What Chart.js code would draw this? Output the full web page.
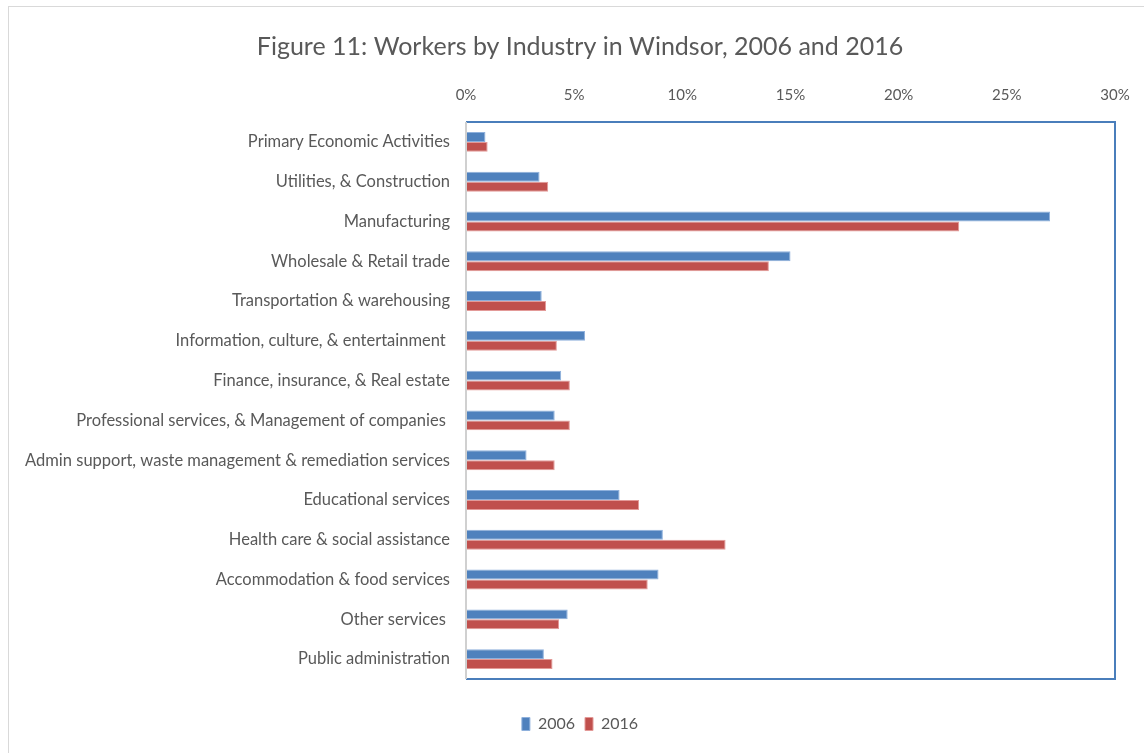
<!DOCTYPE html>
<html>
<head>
<meta charset="utf-8">
<script src="https://cdn.jsdelivr.net/npm/chart.js@4"></script>
<style>
  html, body { margin: 0; padding: 0; background: #fff; overflow: hidden; }
  #wrap { position: relative; width: 1160px; height: 753px; }
  #frame { position: absolute; left: 8px; top: 6px; width: 1144px; height: 760px; border: 1px solid #d9d9d9; box-sizing: border-box; }
</style>
</head>
<body>
<div id="wrap">
  <div id="frame"></div>
  <canvas id="industryChart"></canvas>
</div>
<script>
const industries = [
  "Primary Economic Activities",
  "Utilities, & Construction",
  "Manufacturing",
  "Wholesale & Retail trade",
  "Transportation & warehousing",
  "Information, culture, & entertainment ",
  "Finance, insurance, & Real estate",
  "Professional services, & Management of companies ",
  "Admin support, waste management & remediation services",
  "Educational services",
  "Health care & social assistance",
  "Accommodation & food services",
  "Other services ",
  "Public administration"
];
const workers2006 = [0.9, 3.4, 27.0, 15.0, 3.5, 5.5, 4.4, 4.1, 2.8, 7.1, 9.1, 8.9, 4.7, 3.6];
const workers2016 = [1.0, 3.8, 22.8, 14.0, 3.7, 4.2, 4.8, 4.8, 4.1, 8.0, 12.0, 8.4, 4.3, 4.0];

const textColor = "#595959";
const fontFamily = "Lato, 'Open Sans', sans-serif";

// blue box round the plot, grey line on the left
const plotBorder = {
  id: "plotBorder",
  afterDraw(chart) {
    const { ctx, chartArea: a } = chart;
    ctx.save();
    ctx.lineWidth = 2;
    ctx.strokeStyle = "#4a7ebb";
    ctx.beginPath();
    ctx.moveTo(a.left, a.top);
    ctx.lineTo(a.right, a.top);
    ctx.lineTo(a.right, a.bottom);
    ctx.lineTo(a.left, a.bottom);
    ctx.stroke();
    ctx.strokeStyle = "#d0d0d0";
    ctx.beginPath();
    ctx.moveTo(a.left, a.top);
    ctx.lineTo(a.left, a.bottom);
    ctx.stroke();
    ctx.restore();
  }
};

// empty axes only used as spacers
const spacer = (size) => ({
  type: "linear",
  display: true,
  grid: { display: false, drawTicks: false },
  border: { display: false },
  ticks: { display: false },
  afterFit: (scale) => {
    if (scale.isHorizontal()) scale.height = size;
    else scale.width = size;
  },
});

const chartData = {
  labels: industries,
  datasets: [
    {
      label: "2006",
      data: workers2006,
      backgroundColor: "#4f81bd",
      borderColor: "#8eb0dc",
      borderWidth: 1,
      categoryPercentage: 0.5,
      barPercentage: 1.0,
    },
    {
      label: "2016",
      data: workers2016,
      backgroundColor: "#c0504d",
      borderColor: "#e39a98",
      borderWidth: 1,
      categoryPercentage: 0.5,
      barPercentage: 1.0,
    },
  ],
};

const chartConfig = {
  type: "bar",
  data: chartData,
  plugins: [plotBorder],
  options: {
    indexAxis: "y",
    responsive: true,
    maintainAspectRatio: false,
    animation: false,
    layout: { padding: { top: 32, right: 0, bottom: 11, left: 0 } },
    scales: {
      x: {
        position: "top",
        min: 0,
        max: 30,
        grid: { display: false, drawTicks: false },
        border: { display: false },
        ticks: {
          stepSize: 5,
          padding: 18,
          color: textColor,
          font: { family: fontFamily, size: 15 },
          callback: (v) => v + "%",
        },
        afterFit: (scale) => { scale.height = 60; },
      },
      xPad: { ...spacer(27), position: "bottom" },
      y: {
        grid: { display: false, drawTicks: false },
        border: { display: false },
        ticks: {
          padding: 16,
          color: textColor,
          font: { family: fontFamily, size: 16.5 },
        },
        afterFit: (scale) => { scale.width = 466; },
      },
      yPad: { ...spacer(45), position: "right" },
    },
    plugins: {
      title: {
        display: true,
        text: "Figure 11: Workers by Industry in Windsor, 2006 and 2016",
        color: textColor,
        font: { family: fontFamily, size: 25, weight: "normal" },
        padding: { top: 0, bottom: 0 },
      },
      legend: {
        position: "bottom",
        labels: {
          boxWidth: 8,
          boxHeight: 13,
          padding: 10,
          color: textColor,
          font: { family: fontFamily, size: 16 },
        },
      },
      tooltip: { enabled: false },
    },
  },
};

const industryChart = new Chart(document.getElementById("industryChart"), chartConfig);
</script>
</body>
</html>
